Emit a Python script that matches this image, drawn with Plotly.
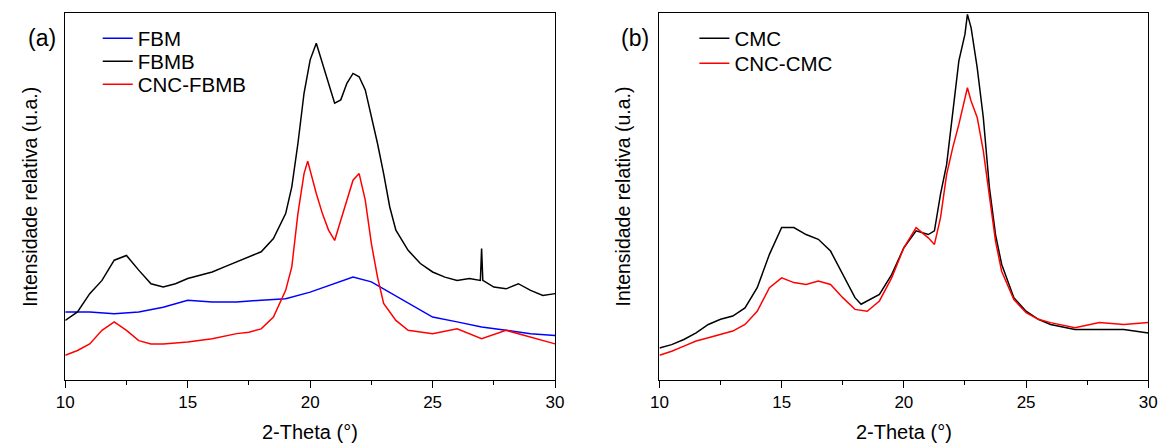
import plotly.graph_objects as go
from plotly.subplots import make_subplots

# panel (a) - readings of the XRD patterns (relative intensity, 0 = x axis, 100 = top frame)
x_fbmb = [10, 10.5, 11, 11.5, 12, 12.5, 13, 13.5, 14, 14.5, 15, 15.5, 16, 16.5, 17, 17.5, 18, 18.5,
          19, 19.25, 19.5, 19.75, 20, 20.25, 20.5, 20.75, 21, 21.25, 21.5, 21.75, 22, 22.25, 22.5,
          22.75, 23, 23.25, 23.5, 24, 24.5, 25, 25.5, 26, 26.5, 26.95, 27, 27.05, 27.5, 28, 28.5,
          29, 29.5, 30]
fbmb = [16.1, 18.4, 23.4, 27.0, 32.5, 33.8, 29.8, 26.1, 25.2, 26.1, 27.5, 28.4, 29.3, 30.7, 32.0,
        33.4, 34.8, 38.4, 45.2, 52.5, 64.3, 78.0, 87.1, 91.6, 86.2, 80.7, 75.3, 76.2, 80.7, 83.4,
        82.5, 78.9, 71.6, 64.3, 56.1, 47.0, 40.7, 35.2, 31.6, 29.3, 27.9, 27.0, 27.5, 27.0, 35.7,
        27.0, 25.2, 24.7, 26.1, 24.3, 22.9, 23.4]

x_fbm = [10, 11, 12, 13, 14, 15, 16, 17, 18, 19, 20, 21, 21.75, 22.5, 23, 24, 25, 26, 27, 28, 29, 30]
fbm = [18.4, 18.4, 17.9, 18.4, 19.7, 21.6, 21.1, 21.1, 21.6, 22.0, 23.8, 26.1, 27.9, 26.6, 24.7,
       20.7, 17.0, 15.7, 14.3, 13.4, 12.5, 12.0]

x_cnc_fbmb = [10, 10.5, 11, 11.5, 12, 12.5, 13, 13.5, 14, 15, 16, 17, 17.5, 18, 18.5, 19, 19.25,
              19.5, 19.75, 19.9, 20.25, 20.5, 20.75, 21, 21.25, 21.5, 21.75, 22, 22.25, 22.5,
              22.75, 23, 23.5, 24, 25, 26, 27, 28, 29, 30]
cnc_fbmb = [6.6, 7.9, 9.7, 13.4, 15.7, 13.4, 10.6, 9.7, 9.7, 10.2, 11.1, 12.5, 12.9, 13.8, 17.0,
            24.3, 30.7, 45.2, 56.1, 59.5, 50.7, 45.2, 40.7, 37.9, 43.4, 48.9, 54.3, 56.1, 48.9,
            37.0, 27.9, 20.7, 16.1, 13.4, 12.5, 13.8, 11.1, 13.4, 11.6, 9.7]

# panel (b)
x_cmc = [10, 10.5, 11, 11.5, 12, 12.5, 13, 13.5, 14, 14.5, 15, 15.5, 16, 16.5, 17, 17.5, 18, 18.25,
         18.5, 19, 19.5, 20, 20.5, 21, 21.25, 21.5, 21.75, 22, 22.25, 22.5, 22.6, 22.75, 23, 23.25,
         23.5, 23.75, 24, 24.5, 25, 25.5, 26, 27, 28, 29, 30]
cmc = [8.6, 9.5, 10.9, 12.7, 15.0, 16.4, 17.3, 19.5, 25.0, 34.1, 41.4, 41.4, 39.5, 38.2, 35.0,
       28.6, 22.3, 20.5, 21.4, 23.2, 28.6, 35.9, 40.5, 39.5, 40.5, 50.5, 58.6, 73.2, 86.8, 94.1,
       99.5, 95.9, 85.0, 71.4, 52.3, 39.5, 31.4, 22.3, 18.6, 16.4, 15.0, 13.6, 13.6, 13.6, 12.7]

x_cnc_cmc = [10, 10.5, 11, 11.5, 12, 12.5, 13, 13.5, 14, 14.5, 15, 15.5, 16, 16.5, 17, 17.5, 18,
             18.5, 19, 19.5, 20, 20.5, 21, 21.25, 21.5, 21.75, 22, 22.25, 22.5, 22.6, 22.75, 23,
             23.25, 23.5, 23.75, 24, 24.5, 25, 25.5, 26, 27, 28, 29, 30]
cnc_cmc = [6.6, 7.7, 9.1, 10.5, 11.4, 12.3, 13.2, 15.0, 18.6, 25.0, 27.7, 26.4, 25.9, 26.8, 25.9,
           22.3, 19.1, 18.6, 21.4, 27.7, 35.9, 41.4, 38.6, 36.8, 44.1, 55.9, 63.2, 69.5, 76.8,
           79.5, 75.9, 71.4, 62.3, 49.5, 37.7, 29.5, 21.8, 18.2, 16.4, 15.5, 14.1, 15.5, 15.0, 15.5]

W, H = 1168, 443
OFF = 8  # the page body adds an 8 px margin, so positions are given in page px minus this
FONT = "Liberation Sans, Arial, sans-serif"


def px_x(p):
    return (p - OFF) / W


def px_y(p):
    return 1 - (p - OFF) / H


fig = make_subplots(rows=1, cols=2)

fig.add_trace(go.Scatter(x=x_fbm, y=fbm, name="FBM", mode="lines",
                         line=dict(color="#0000ff", width=1.5), legend="legend"), 1, 1)
fig.add_trace(go.Scatter(x=x_fbmb, y=fbmb, name="FBMB", mode="lines",
                         line=dict(color="#000000", width=1.5), legend="legend2"), 1, 1)
fig.add_trace(go.Scatter(x=x_cnc_fbmb, y=cnc_fbmb, name="CNC-FBMB", mode="lines",
                         line=dict(color="#ff0000", width=1.5), legend="legend3"), 1, 1)

fig.add_trace(go.Scatter(x=x_cmc, y=cmc, name="CMC", mode="lines",
                         line=dict(color="#000000", width=1.5), legend="legend4"), 1, 2)
fig.add_trace(go.Scatter(x=x_cnc_cmc, y=cnc_cmc, name="CNC-CMC", mode="lines",
                         line=dict(color="#ff0000", width=1.5), legend="legend5"), 1, 2)
fig.update_traces(showlegend=True)

xdom_a = [px_x(57), px_x(554.5)]
xdom_b = [px_x(660.5), px_x(1157)]
ydom = [px_y(379.5), px_y(12.5)]

xaxis_style = dict(range=[10, 30], tickvals=[10, 15, 20, 25, 30], ticks="outside", ticklen=7,
                   tickwidth=1.3, tickcolor="#000", showline=True, linecolor="#000",
                   linewidth=1.3, mirror=True, showgrid=False, zeroline=False,
                   tickfont=dict(size=17, color="#000", family=FONT),
                   minor=dict(tickvals=[12.5, 17.5, 22.5, 27.5], ticks="outside", ticklen=4,
                              tickwidth=1.3, tickcolor="#000"))
yaxis_style = dict(range=[0, 100], showticklabels=False, ticks="", showline=True, linecolor="#000",
                   linewidth=1.3, mirror=True, showgrid=False, zeroline=False, fixedrange=True)

fig.update_xaxes(domain=xdom_a, row=1, col=1, **xaxis_style)
fig.update_xaxes(domain=xdom_b, row=1, col=2, **xaxis_style)
fig.update_yaxes(domain=ydom, row=1, col=1, **yaxis_style)
fig.update_yaxes(domain=ydom, row=1, col=2, **yaxis_style)


def leg(x, y):
    return dict(x=px_x(x), y=px_y(y), xanchor="left", yanchor="middle", visible=True,
                bgcolor="rgba(0,0,0,0)", font=dict(size=20.5, color="#000", family=FONT))


fig.update_layout(
    width=W, height=H,
    margin=dict(l=0, r=0, t=0, b=0),
    paper_bgcolor="white", plot_bgcolor="white",
    font=dict(family=FONT, color="#000"),
    showlegend=True,
    legend=leg(90, 38.5), legend2=leg(90, 61.5), legend3=leg(90, 84.5),
    legend4=leg(696, 38.5), legend5=leg(696, 63.5),
)

ann = []
for cx, label in [(306, "2-Theta (°)"), (909, "2-Theta (°)")]:
    ann.append(dict(x=px_x(cx), y=px_y(432), text=label,
                    font=dict(size=20, family=FONT, color="#000")))
for cx in [21, 623]:
    ann.append(dict(x=px_x(cx), y=px_y(197), text="Intensidade relativa (u.a.)",
                    textangle=-90, font=dict(size=19.5, family=FONT, color="#000")))
for cx, label in [(33, "(a)"), (636, "(b)")]:
    ann.append(dict(x=px_x(cx), y=px_y(38), text=label,
                    font=dict(size=23, family=FONT, color="#000")))
for a in ann:
    a.update(xref="paper", yref="paper", xanchor="center", yanchor="middle", showarrow=False)
fig.update_layout(annotations=ann)

fig.write_html("out.html")
